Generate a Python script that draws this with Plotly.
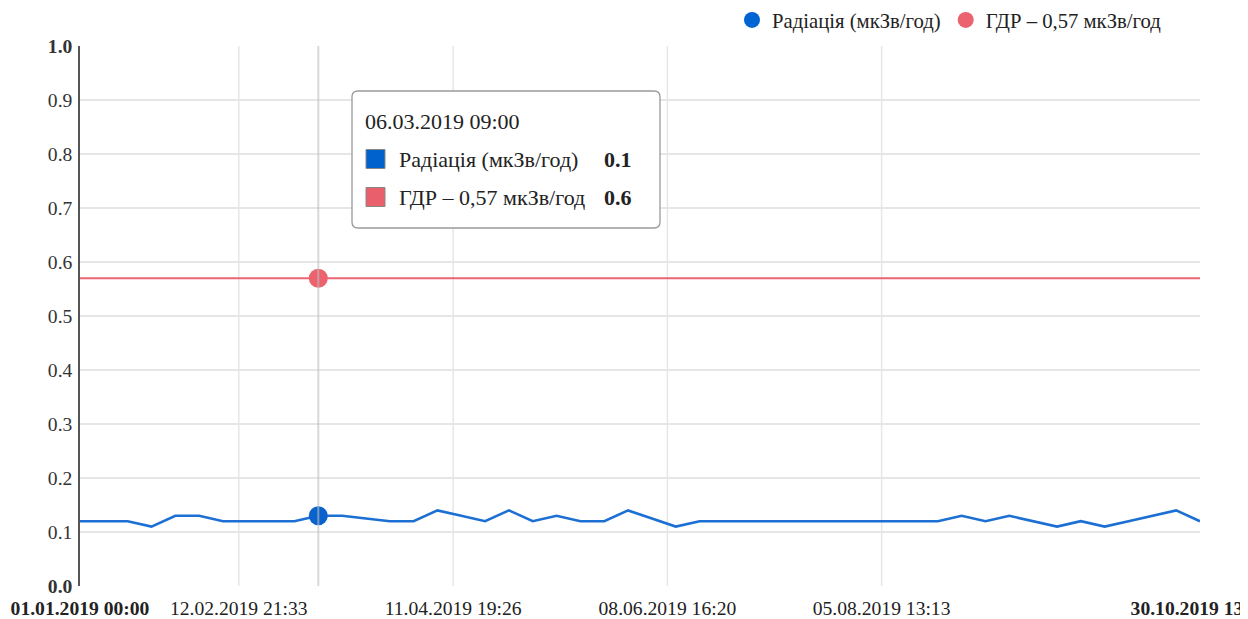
import pandas as pd
import plotly.graph_objects as go

# ---------------- data ----------------
START = "2019-01-01 00:00"
END = "2019-10-30 13:30"
N_POINTS = 48
dates = pd.date_range(START, END, periods=N_POINTS)

radiation = [0.12, 0.12, 0.12, 0.11, 0.13, 0.13, 0.12, 0.12, 0.12, 0.12,
             0.13, 0.13, 0.125, 0.12, 0.12, 0.14, 0.13, 0.12, 0.14, 0.12,
             0.13, 0.12, 0.12, 0.14, 0.125, 0.11, 0.12, 0.12, 0.12, 0.12,
             0.12, 0.12, 0.12, 0.12, 0.12, 0.12, 0.12, 0.13, 0.12, 0.13,
             0.12, 0.11, 0.12, 0.11, 0.12, 0.13, 0.14, 0.12]
limit = [0.57] * N_POINTS

name_rad = "Радіація (мкЗв/год)"
name_lim = "ГДР – 0,57 мкЗв/год"

x_tickvals = ["2019-01-01 00:00", "2019-02-12 21:33", "2019-04-11 19:26",
              "2019-06-08 16:20", "2019-08-05 13:13", "2019-10-30 13:30"]
x_ticktext = ["<b>01.01.2019 00:00</b>", "12.02.2019 21:33", "11.04.2019 19:26",
              "08.06.2019 16:20", "05.08.2019 13:13", "<b>30.10.2019 13:30</b>"]
x_grid = x_tickvals[1:5]
y_tickvals = [0.0, 0.1, 0.2, 0.3, 0.4, 0.5, 0.6, 0.7, 0.8, 0.9, 1.0]
y_ticktext = ["<b>0.0</b>", "0.1", "0.2", "0.3", "0.4", "0.5", "0.6",
              "0.7", "0.8", "0.9", "<b>1.0</b>"]

hover_idx = 10
hover_label = "06.03.2019 09:00"

# ---------------- style ----------------
BLUE = "#1c6fd3"
BLUE_M = "#0a63cc"
RED = "#ec6370"
FONT = "Liberation Serif"
OFF = 8  # page body margin
W, H = 1240, 611
L, T = 72, 38
PW, PH = 1120, 540
R, B = W - L - PW, H - T - PH


def px(x):
    """window pixel x -> paper x"""
    return (x - OFF - L) / PW


def py(y):
    """window pixel y -> paper y"""
    return (H - B - (y - OFF)) / PH


fig = go.Figure()

fig.add_trace(go.Scatter(x=dates, y=limit, mode="lines", name=name_lim,
                         line=dict(color=RED, width=2), showlegend=False,
                         hoverinfo="skip"))
fig.add_trace(go.Scatter(x=dates, y=radiation, mode="lines", name=name_rad,
                         line=dict(color=BLUE, width=2.6), showlegend=False,
                         hoverinfo="skip"))
# highlighted points
fig.add_trace(go.Scatter(x=[dates[hover_idx]], y=[radiation[hover_idx]],
                         mode="markers", marker=dict(color=BLUE_M, size=19),
                         showlegend=False, hoverinfo="skip"))
fig.add_trace(go.Scatter(x=[dates[hover_idx]], y=[limit[hover_idx]],
                         mode="markers", marker=dict(color=RED, size=19),
                         showlegend=False, hoverinfo="skip"))
# legend entries
fig.add_trace(go.Scatter(x=[None], y=[None], mode="markers", name=name_rad,
                         marker=dict(color="#0064d2", size=19)))
fig.add_trace(go.Scatter(x=[None], y=[None], mode="markers", name=name_lim,
                         marker=dict(color=RED, size=19)))

shapes = []
for g in x_grid:
    shapes.append(dict(type="line", xref="x", yref="paper", x0=g, x1=g,
                       y0=0, y1=1, line=dict(color="#e6e6e6", width=1.5),
                       layer="below"))
# crosshair
shapes.append(dict(type="line", xref="x", yref="paper", x0=dates[hover_idx],
                   x1=dates[hover_idx], y0=0, y1=1,
                   line=dict(color="rgba(190,190,190,0.6)", width=2),
                   layer="above"))

# tooltip box (rounded)
bx0, bx1, by0, by1, r = 352, 660, 91, 228, 6


def P(x, y):
    return f"{px(x):.5f},{py(y):.5f}"


path = (f"M {P(bx0 + r, by0)} L {P(bx1 - r, by0)} Q {P(bx1, by0)} {P(bx1, by0 + r)} "
        f"L {P(bx1, by1 - r)} Q {P(bx1, by1)} {P(bx1 - r, by1)} "
        f"L {P(bx0 + r, by1)} Q {P(bx0, by1)} {P(bx0, by1 - r)} "
        f"L {P(bx0, by0 + r)} Q {P(bx0, by0)} {P(bx0 + r, by0)} Z")
shapes.append(dict(type="path", xref="paper", yref="paper", path=path,
                   fillcolor="rgba(255,255,255,0.97)",
                   line=dict(color="#9a9a9a", width=1.3), layer="above"))
# tooltip squares
for (yc, col) in [(159, "#0062cc"), (197, "#e9606c")]:
    shapes.append(dict(type="rect", xref="paper", yref="paper",
                       x0=px(366), x1=px(385), y0=py(yc - 9.5), y1=py(yc + 9.5),
                       fillcolor=col, line=dict(color="#888", width=1),
                       layer="above"))

tt_font = dict(family=FONT, size=22, color="#222")
annotations = [
    dict(xref="paper", yref="paper", x=px(363), y=py(122), text=hover_label,
         showarrow=False, xanchor="left", yanchor="middle", font=tt_font),
    dict(xref="paper", yref="paper", x=px(397), y=py(159), text=name_rad,
         showarrow=False, xanchor="left", yanchor="middle", font=tt_font),
    dict(xref="paper", yref="paper", x=px(397), y=py(197), text=name_lim,
         showarrow=False, xanchor="left", yanchor="middle", font=tt_font),
    dict(xref="paper", yref="paper", x=px(602), y=py(159),
         text=f"<b>{round(radiation[hover_idx], 1)}</b>",
         showarrow=False, xanchor="left", yanchor="middle", font=tt_font),
    dict(xref="paper", yref="paper", x=px(602), y=py(197),
         text=f"<b>{round(limit[hover_idx], 1)}</b>",
         showarrow=False, xanchor="left", yanchor="middle", font=tt_font),
]

fig.update_layout(
    width=W, height=H,
    margin=dict(l=L, r=R, t=T, b=B, autoexpand=False),
    paper_bgcolor="white", plot_bgcolor="white",
    font=dict(family=FONT, size=19.6, color="#333"),
    showlegend=True,
    legend=dict(orientation="h", x=px(732), xanchor="left",
                y=py(20), yanchor="middle",
                font=dict(family=FONT, size=20.7, color="#222"),
                bgcolor="rgba(0,0,0,0)", itemwidth=30, tracegroupgap=0),
    shapes=shapes, annotations=annotations,
    hovermode=False,
)
fig.update_xaxes(type="date", range=[START, END], tickmode="array",
                 tickvals=x_tickvals, ticktext=x_ticktext, showgrid=False,
                 showline=False, zeroline=False, ticks="", ticklen=0,
                 automargin=False, tickangle=0, ticklabelstandoff=8,
                 ticklabeloverflow="allow",
                 tickfont=dict(family=FONT, size=19.6, color="#222"))
fig.update_yaxes(range=[0, 1], tickmode="array", tickvals=y_tickvals,
                 ticktext=y_ticktext, showgrid=True, gridcolor="#e6e6e6",
                 gridwidth=1.5, showline=True, linecolor="#555", linewidth=1.5,
                 zeroline=False, ticks="", ticklen=0, automargin=False,
                 ticklabelstandoff=2,
                 tickfont=dict(family=FONT, size=19.6, color="#333"))

fig.write_html("out.html")
